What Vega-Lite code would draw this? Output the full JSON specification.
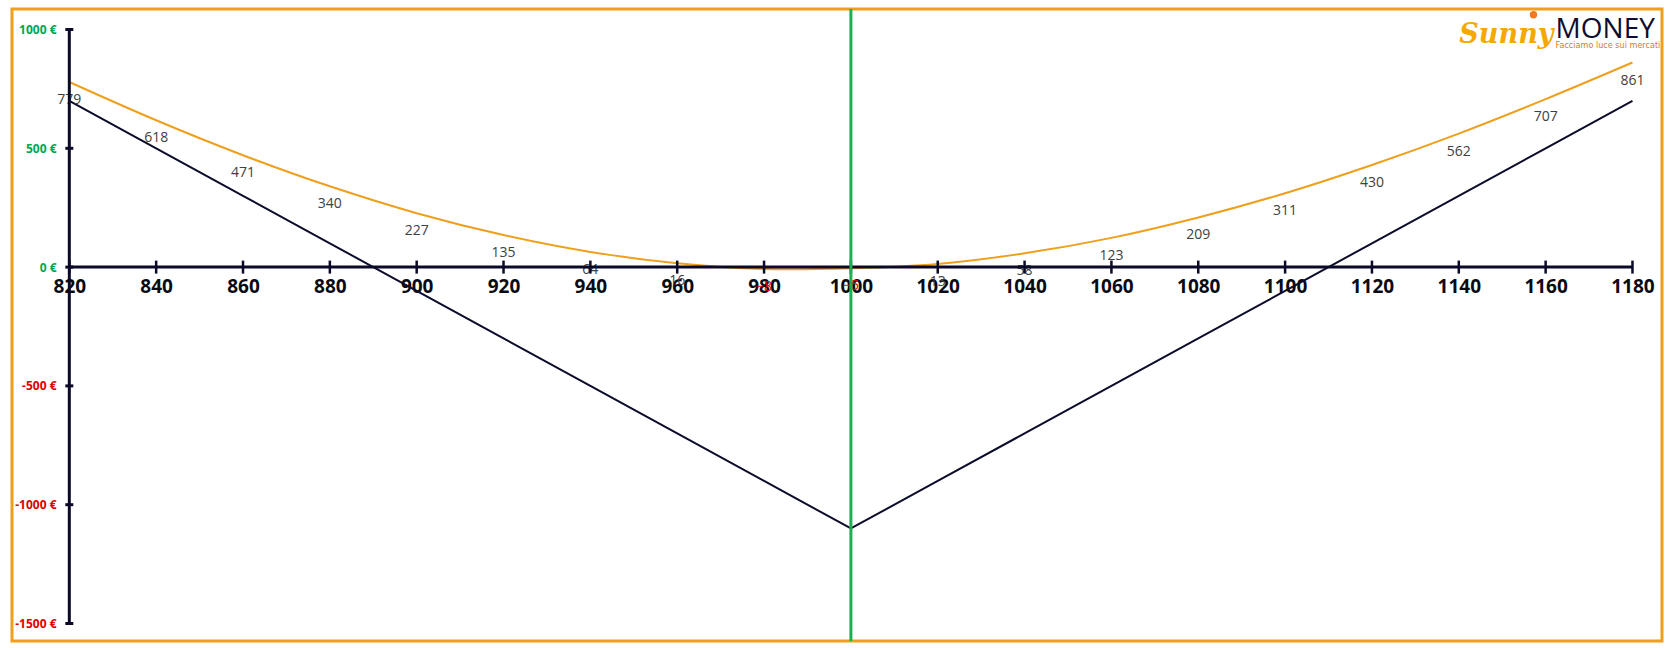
{
  "$schema": "https://vega.github.io/schema/vega-lite/v6.json",
  "width": 1650,
  "height": 632,
  "autosize": {"type": "none"},
  "padding": {"left": 12, "top": 9, "right": 8, "bottom": 7},
  "background": "white",
  "config": {
    "font": "Open Sans",
    "view": {"stroke": "#EE9F1B", "strokeWidth": 3},
    "axis": {"grid": false, "domain": false, "ticks": false, "tickSize": 0}
  },
  "datasets": {
    "pl": [
      {"price": 820, "expiry": 700, "now": 779},
      {"price": 840, "expiry": 500, "now": 618},
      {"price": 860, "expiry": 300, "now": 471},
      {"price": 880, "expiry": 100, "now": 340},
      {"price": 900, "expiry": -100, "now": 227},
      {"price": 920, "expiry": -300, "now": 135},
      {"price": 940, "expiry": -500, "now": 64},
      {"price": 960, "expiry": -700, "now": 16},
      {"price": 980, "expiry": -900, "now": -8},
      {"price": 1000, "expiry": -1100, "now": -5},
      {"price": 1020, "expiry": -900, "now": 13},
      {"price": 1040, "expiry": -700, "now": 58},
      {"price": 1060, "expiry": -500, "now": 123},
      {"price": 1080, "expiry": -300, "now": 209},
      {"price": 1100, "expiry": -100, "now": 311},
      {"price": 1120, "expiry": 100, "now": 430},
      {"price": 1140, "expiry": 300, "now": 562},
      {"price": 1160, "expiry": 500, "now": 707},
      {"price": 1180, "expiry": 700, "now": 861}
    ],
    "yticks": [{"v": 1000}, {"v": 500}, {"v": 0}, {"v": -500}, {"v": -1000}, {"v": -1500}],
    "one": [{}]
  },
  "layer": [
    {
      "data": {"name": "pl"},
      "mark": {"type": "line", "color": "#EE9F1B", "strokeWidth": 2, "interpolate": "catmull-rom"},
      "encoding": {
        "x": {
          "field": "price", "type": "quantitative", "title": null,
          "scale": {"domain": [806.8, 1186.8], "nice": false, "zero": false},
          "axis": {
            "orient": "bottom", "offset": -373, "values": [820, 840, 860, 880, 900, 920, 940, 960, 980, 1000, 1020, 1040, 1060, 1080, 1100, 1120, 1140, 1160, 1180],
            "labelFontSize": 19, "labelFontWeight": "bold", "labelColor": "#0A0A14", "labelPadding": 9,
            "labelOverlap": false, "labelFlush": false, "format": "d", "title": null
          }
        },
        "y": {
          "field": "now", "type": "quantitative", "title": null,
          "scale": {"domain": [-1573.7, 1086.3], "nice": false, "zero": false},
          "axis": {
            "orient": "left", "offset": -58, "values": [1000, 500, 0, -500, -1000, -1500],
            "labelExpr": "datum.value + ' €'", "labelFontSize": 12, "labelFontWeight": "bold",
            "labelColor": {"condition": {"test": "datum.value < 0", "value": "#E00000"}, "value": "#00A651"},
            "labelPadding": 14, "title": null
          }
        }
      }
    },
    {
      "data": {"name": "pl"},
      "mark": {"type": "line", "color": "#0B0B2B", "strokeWidth": 2},
      "encoding": {
        "x": {"field": "price", "type": "quantitative", "title": null},
        "y": {"field": "expiry", "type": "quantitative", "title": null}
      }
    },
    {
      "data": {"name": "pl"},
      "mark": {"type": "text", "fontSize": 14, "dy": 18, "baseline": "middle", "align": "center"},
      "encoding": {
        "x": {"field": "price", "type": "quantitative", "title": null},
        "y": {"field": "now", "type": "quantitative", "title": null},
        "text": {"field": "now", "type": "quantitative", "format": "d"},
        "color": {"condition": {"test": "datum.now < 0", "value": "#E00000"}, "value": "#404040"}
      }
    },
    {
      "data": {"name": "one"},
      "mark": {"type": "rule", "color": "#0A0A28", "strokeWidth": 3},
      "encoding": {
        "x": {"datum": 820, "type": "quantitative", "title": null},
        "y": {"datum": -1500, "type": "quantitative", "title": null},
        "y2": {"datum": 1000}
      }
    },
    {
      "data": {"name": "one"},
      "mark": {"type": "rule", "color": "#0A0A28", "strokeWidth": 3},
      "encoding": {
        "y": {"datum": 0, "type": "quantitative", "title": null},
        "x": {"datum": 820, "type": "quantitative", "title": null},
        "x2": {"datum": 1180}
      }
    },
    {
      "data": {"name": "pl"},
      "mark": {"type": "tick", "orient": "vertical", "color": "#0A0A28", "size": 13, "thickness": 2.5, "opacity": 1},
      "encoding": {
        "x": {"field": "price", "type": "quantitative", "title": null},
        "y": {"datum": 0, "type": "quantitative", "title": null}
      }
    },
    {
      "data": {"name": "yticks"},
      "mark": {"type": "tick", "orient": "horizontal", "color": "#0A0A28", "size": 8, "thickness": 3, "opacity": 1},
      "encoding": {
        "x": {"datum": 820, "type": "quantitative", "title": null},
        "y": {"field": "v", "type": "quantitative", "title": null}
      }
    },
    {
      "data": {"name": "one"},
      "mark": {"type": "rule", "color": "#1DAF50", "strokeWidth": 3},
      "encoding": {
        "x": {"datum": 1000, "type": "quantitative", "title": null}
      }
    },
    {
      "data": {"name": "one"},
      "mark": {"type": "point", "shape": "circle", "filled": true, "size": 55, "color": "#F07A1E", "opacity": 1},
      "encoding": {
        "x": {"datum": 1157.2, "type": "quantitative", "title": null},
        "y": {"datum": 1062, "type": "quantitative", "title": null}
      }
    },
    {
      "data": {"name": "one"},
      "mark": {"type": "text", "text": "Sunny", "font": "DejaVu Serif", "fontStyle": "italic", "fontWeight": "bold", "fontSize": 27, "color": "#F5A800", "align": "right", "baseline": "alphabetic"},
      "encoding": {
        "x": {"datum": 1161.8, "type": "quantitative", "title": null},
        "y": {"datum": 945, "type": "quantitative", "title": null}
      }
    },
    {
      "data": {"name": "one"},
      "mark": {"type": "text", "text": "MONEY", "font": "Open Sans", "fontSize": 28, "color": "#0D0D30", "align": "left", "baseline": "alphabetic"},
      "encoding": {
        "x": {"datum": 1162.3, "type": "quantitative", "title": null},
        "y": {"datum": 966, "type": "quantitative", "title": null}
      }
    },
    {
      "data": {"name": "one"},
      "mark": {"type": "text", "text": "Facciamo luce sui mercati", "font": "DejaVu Sans Condensed, Roboto", "fontSize": 9, "color": "#E07A20", "align": "left", "baseline": "alphabetic"},
      "encoding": {
        "x": {"datum": 1162.3, "type": "quantitative", "title": null},
        "y": {"datum": 921, "type": "quantitative", "title": null}
      }
    }
  ]
}
